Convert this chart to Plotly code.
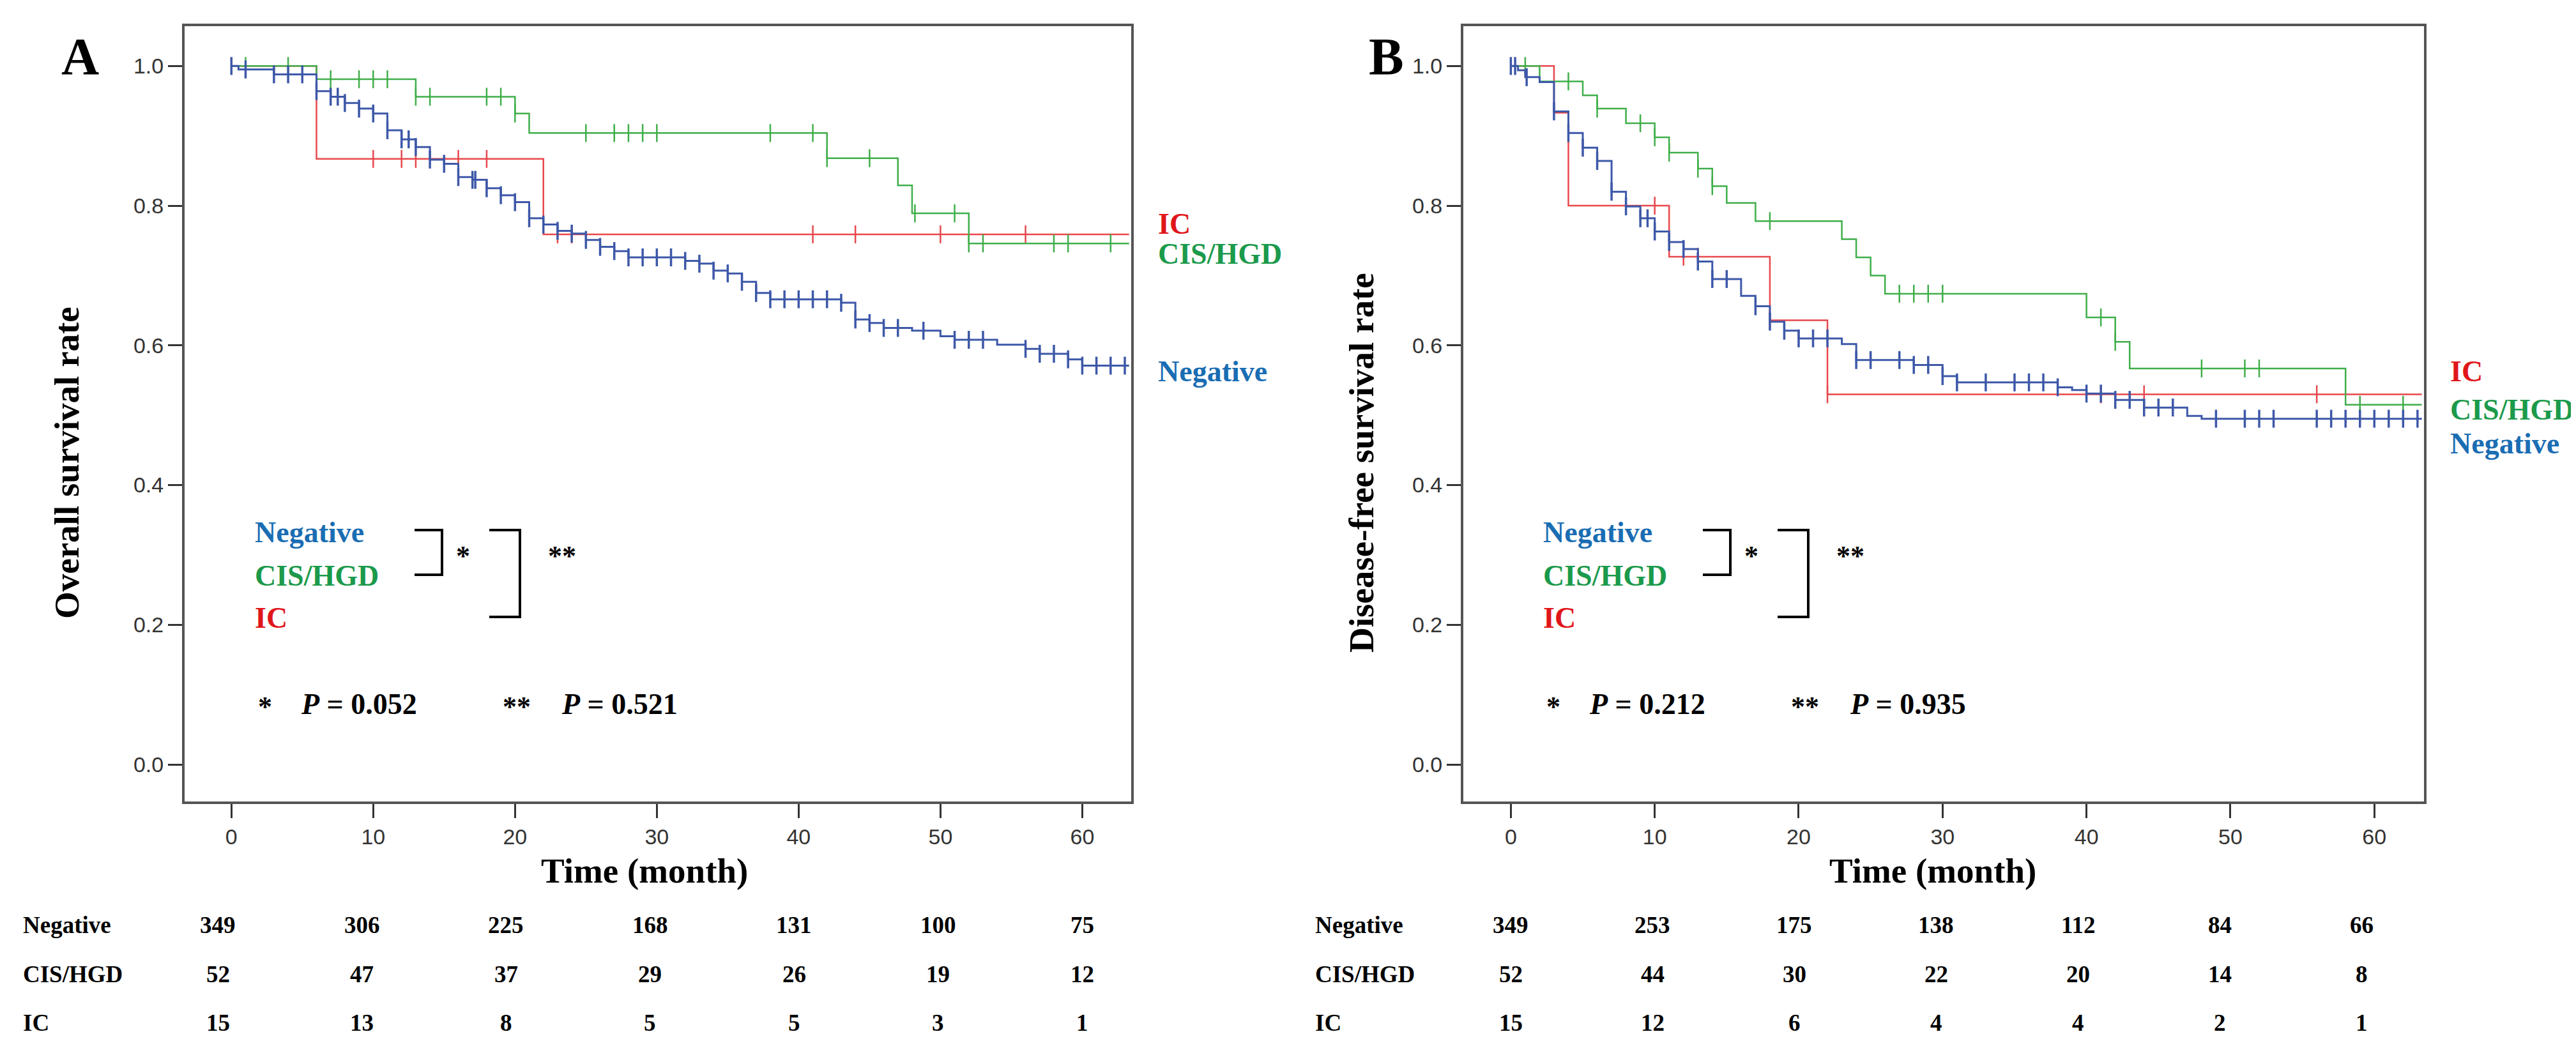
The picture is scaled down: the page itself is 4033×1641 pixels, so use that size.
import plotly.graph_objects as go
from plotly.subplots import make_subplots

# ---- data ----
months = [0, 10, 20, 30, 40, 50, 60]
groups = ['Negative', 'CIS/HGD', 'IC']
end_time = 63.3

# panel A: overall survival
neg_os_t = [0.5, 3, 6, 7, 8, 9, 10, 11, 12, 13, 14, 15, 16, 17, 18, 19, 20, 21, 22, 23, 24, 25,
            26, 27, 28, 32, 33, 34, 35, 36, 37, 38, 43, 44, 45, 46, 48, 50, 51, 54, 56, 57, 59, 60]
neg_os_s = [0.995, 0.988, 0.964, 0.956, 0.947, 0.939, 0.932, 0.908, 0.895, 0.884, 0.866, 0.860,
            0.841, 0.837, 0.825, 0.815, 0.805, 0.782, 0.773, 0.764, 0.760, 0.751, 0.741, 0.735,
            0.726, 0.721, 0.717, 0.707, 0.703, 0.691, 0.675, 0.666, 0.661, 0.637, 0.632, 0.625,
            0.621, 0.613, 0.608, 0.601, 0.595, 0.588, 0.580, 0.571]
neg_os_c = [0, 1, 3, 4, 5, 6, 7, 7.5, 8, 9, 10, 11, 12, 12.5, 13, 14, 15, 16, 17, 17.2, 18, 19,
            20, 21, 22, 23, 24, 25, 26, 27, 28, 29, 30, 31, 32, 33, 34, 35, 36, 37, 38, 39, 40,
            41, 42, 43, 44, 45, 46, 47, 48.8, 51, 52, 53, 56, 57, 58, 59, 60, 61, 62, 63]
cis_os_t = [6, 13, 20, 21, 42, 47, 48, 52]
cis_os_s = [0.981, 0.956, 0.932, 0.904, 0.868, 0.829, 0.789, 0.746]
cis_os_c = [1, 4, 7, 9, 10, 11, 13, 14, 18, 19, 20, 25, 27, 28, 29, 30, 38, 41, 42, 45, 48.2,
            51, 52, 53, 58, 59, 62]
ic_os_t = [6, 22]
ic_os_s = [0.867, 0.759]
ic_os_c = [10, 12, 13, 16, 18, 23, 24, 41, 44, 50, 56]

# panel B: disease-free survival
neg_dfs_t = [0.5, 1, 2, 3, 4, 5, 6, 7, 8, 9, 10, 11, 12, 13, 14, 16, 17, 18, 19, 20, 23, 24,
             28, 30, 31, 38, 39, 40, 42, 44, 47, 48]
neg_dfs_s = [0.994, 0.984, 0.977, 0.935, 0.904, 0.883, 0.864, 0.820, 0.799, 0.782, 0.763,
             0.748, 0.738, 0.720, 0.695, 0.671, 0.656, 0.634, 0.621, 0.610, 0.602, 0.579,
             0.572, 0.556, 0.547, 0.540, 0.536, 0.531, 0.522, 0.511, 0.499, 0.495]
neg_dfs_c = [0, 0.3, 1.1, 3, 4, 5, 6, 7, 8, 9, 9.5, 10, 11, 12, 13, 14, 15, 17, 18, 19, 20, 21,
             22, 24, 25, 27, 28, 29, 30, 31, 33, 35, 36, 37, 38, 40, 41, 42, 43, 44, 45, 46, 49,
             51, 52, 53, 56, 57, 58, 59, 60, 61, 62, 63]
cis_dfs_t = [2, 5, 6, 8, 10, 11, 13, 14, 15, 17, 23, 24, 25, 26, 40, 42, 43, 58]
cis_dfs_s = [0.978, 0.958, 0.939, 0.918, 0.898, 0.876, 0.853, 0.828, 0.804, 0.778, 0.752,
             0.726, 0.700, 0.674, 0.640, 0.605, 0.567, 0.515]
cis_dfs_c = [1, 4, 6, 9, 10, 11, 13, 14, 18, 27, 28, 29, 30, 41, 42, 48, 51, 52, 59, 62]
ic_dfs_t = [3, 4, 11, 18, 22]
ic_dfs_s = [0.933, 0.800, 0.727, 0.636, 0.530]
ic_dfs_c = [10, 12, 13, 18, 22, 41, 44, 56]

risk_os = {'Negative': [349, 306, 225, 168, 131, 100, 75],
           'CIS/HGD': [52, 47, 37, 29, 26, 19, 12],
           'IC': [15, 13, 8, 5, 5, 3, 1]}
risk_dfs = {'Negative': [349, 253, 175, 138, 112, 84, 66],
            'CIS/HGD': [52, 44, 30, 22, 20, 14, 8],
            'IC': [15, 12, 6, 4, 4, 2, 1]}
p_os = ['0.052', '0.521']
p_dfs = ['0.212', '0.935']

W, H = 4033, 1641
line_col = {'Negative': '#3d58a8', 'CIS/HGD': '#3fae49', 'IC': '#e8474c'}
text_col = {'Negative': '#1a6db3', 'CIS/HGD': '#1b9a4b', 'IC': '#e0161b'}
SERIF = 'Liberation Serif, Times New Roman, serif'


def px(x):
    return x / W


def py(y):
    return 1 - y / H


def step_value(ts, ss, t):
    v = 1.0
    for ti, si in zip(ts, ss):
        if ti <= t:
            v = si
    return v


fig = make_subplots(rows=1, cols=2)

panels = [
    (1, [('Negative', neg_os_t, neg_os_s, neg_os_c), ('CIS/HGD', cis_os_t, cis_os_s, cis_os_c),
         ('IC', ic_os_t, ic_os_s, ic_os_c)]),
    (2, [('Negative', neg_dfs_t, neg_dfs_s, neg_dfs_c), ('CIS/HGD', cis_dfs_t, cis_dfs_s, cis_dfs_c),
         ('IC', ic_dfs_t, ic_dfs_s, ic_dfs_c)]),
]

for col, curves in panels:
    # draw IC, CIS/HGD first so Negative sits on top like the reference
    for name, ts, ss, cs in curves[::-1]:
        xs = [0] + list(ts) + [end_time]
        ys = [1.0] + list(ss) + [ss[-1]]
        fig.add_trace(go.Scatter(x=xs, y=ys, mode='lines', line_shape='hv',
                                 line=dict(color=line_col[name], width=3 if name == 'Negative' else 2.5),
                                 showlegend=False, hoverinfo='skip'), row=1, col=col)
        cy = [step_value(ts, ss, c) for c in cs]
        fig.add_trace(go.Scatter(x=cs, y=cy, mode='markers',
                                 marker=dict(symbol='line-ns', size=20,
                                             line=dict(color=line_col[name], width=3.5 if name == 'Negative' else 2.5)),
                                 showlegend=False, hoverinfo='skip'), row=1, col=col)

axis_common = dict(showgrid=False, zeroline=False, showline=True, mirror=True,
                   linecolor='#555555', linewidth=4, ticks='outside', ticklen=22,
                   tickwidth=3, tickcolor='#333333',
                   tickfont=dict(family='Liberation Sans, Arial', size=34, color='#333333'))

fig.update_xaxes(axis_common, range=[-3.3, 63.45], tickvals=months)
fig.update_yaxes(axis_common, range=[-0.053, 1.057], tickvals=[0, 0.2, 0.4, 0.6, 0.8, 1.0],
                 tickformat='.1f')
fig.update_layout(
    xaxis=dict(domain=[px(281), px(1763)], anchor='y'),
    xaxis2=dict(domain=[px(2283), px(3787)], anchor='y2'),
    yaxis=dict(domain=[py(1247), py(33)], anchor='x'),
    yaxis2=dict(domain=[py(1247), py(33)], anchor='x2'),
)

ann = []
shapes = []


def text(x, y, s, size, color='black', anchor='left', angle=0):
    ann.append(dict(x=px(x), y=py(y), xref='paper', yref='paper', text=s, showarrow=False,
                    xanchor=anchor, yanchor='middle', textangle=angle,
                    font=dict(family=SERIF, size=size, color=color)))


def bracket(x0, x1, y0, y1):
    path = 'M {a},{b} L {c},{b} L {c},{d} L {a},{d}'.format(a=px(x0), b=py(y0), c=px(x1), d=py(y1))
    shapes.append(dict(type='path', path=path, xref='paper', yref='paper',
                       line=dict(color='black', width=4)))


panel_info = [
    # letter, dx offset, y title, right-label y positions, risk table, p values, label x
    ('A', 0, 'Overall survival rate', {'IC': 342, 'CIS/HGD': 389, 'Negative': 574}, risk_os, p_os, 26, 1803, 355),
    ('B', 2017, 'Disease-free survival rate', {'IC': 574, 'CIS/HGD': 633, 'Negative': 686}, risk_dfs, p_dfs, 2049, 3826, 2357),
]
tick_step = 222.0

for letter, dx, ytitle, rlab, risk, pv, tab_x, rlab_x, x0px in panel_info:
    text(117 + dx + (28 if letter == 'B' else 0), 80, '<b>%s</b>' % letter, 82, anchor='center')
    text(96 + dx + (10 if letter == 'B' else 0), 717, '<b>%s</b>' % ytitle, 55, anchor='center', angle=-90)
    text(1001 + dx, 1355, '<b>Time (month)</b>', 55, anchor='center')
    for name in groups:
        text(rlab_x, rlab[name], '<b>%s</b>' % name, 46, color=text_col[name])
    # in-plot group list with comparison brackets
    for name, yy in zip(groups, [826, 893, 959]):
        text(389 + dx, yy, '<b>%s</b>' % name, 46, color=text_col[name])
    bracket(641 + dx, 684 + dx, 822, 892)
    bracket(758 + dx, 806 + dx, 822, 958)
    text(717 + dx, 862, '<b>*</b>', 44, anchor='center')
    text(872 + dx, 862, '<b>**</b>', 44, anchor='center')
    text(407 + dx, 1098, '<b>*</b>', 44, anchor='center')
    text(461 + dx, 1094, '<b><i>P</i> = %s</b>' % pv[0], 46)
    text(801 + dx, 1098, '<b>**</b>', 44, anchor='center')
    text(869 + dx, 1094, '<b><i>P</i> = %s</b>' % pv[1], 46)
    # number-at-risk table
    for name, yy in zip(groups, [1440, 1517, 1593]):
        text(tab_x, yy, '<b>%s</b>' % name, 37)
        for m, n in zip(months, risk[name]):
            xx = x0px + m / 10 * tick_step * (1.016 if letter == 'A' else 1.0) - (22 if letter == 'A' else 0)
            text(xx, yy, '<b>%d</b>' % n, 37, anchor='center')

fig.update_layout(width=W, height=H, margin=dict(l=0, r=0, t=0, b=0),
                  plot_bgcolor='white', paper_bgcolor='white',
                  annotations=ann, shapes=shapes, showlegend=False)

fig.write_html('out.html')
